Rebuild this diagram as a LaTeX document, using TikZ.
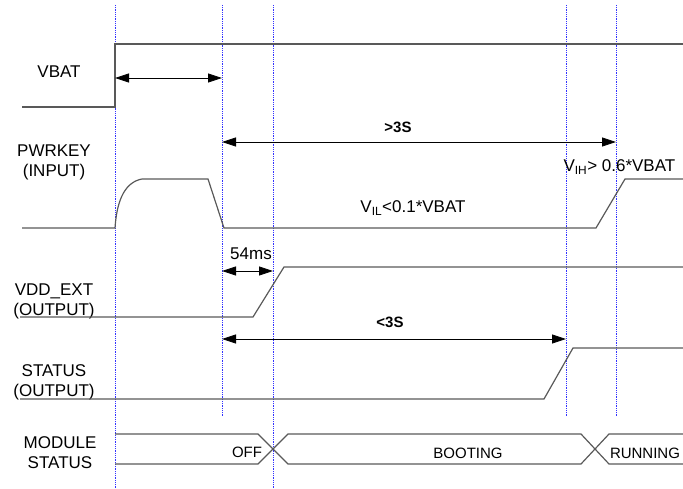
\documentclass[tikz,border=0pt]{standalone}
\usepackage{fontspec}
\setmainfont{Liberation Sans}
\usetikzlibrary{positioning,arrows.meta}

\begin{document}
\begin{tikzpicture}[x=1pt,y=-1pt,
    sig/.style={draw=black!65,line width=1.2pt},
    tline/.style={blue!80,densely dotted,line width=0.8pt},
    span/.style={{Triangle[length=14pt,width=9pt]}-{Triangle[length=14pt,width=9pt]},line width=0.8pt},
    siglabel/.style={font=\fontsize{17}{20}\selectfont,align=center},
    dur/.style={font=\bfseries\fontsize{15}{18}\selectfont},
    modstate/.style={font=\fontsize{15}{18}\selectfont}]
   \useasboundingbox (0,0) rectangle (683,489);
   % time markers
   \coordinate (t0) at (115,5);
   \coordinate (t1) at (222,5);
   \coordinate (t2) at (273,5);
   \coordinate (t3) at (566,5);
   \coordinate (t4) at (616,5);
   \draw[tline] (t0) -- (t0 |- 0,489);
   \draw[tline] (t1) -- (t1 |- 0,416);
   \draw[tline] (t2) -- (t2 |- 0,489);
   \draw[tline] (t3) -- (t3 |- 0,416);
   \draw[tline] (t4) -- (t4 |- 0,416);

   % signal names
   \node[siglabel] (vbat)   at (59,72)  {VBAT};
   \node[siglabel] (pwrkey) at (54,162) {PWRKEY\\(INPUT)};
   \node[siglabel] (vddext) at (54,301) {VDD\_EXT\\(OUTPUT)};
   \node[siglabel] (status) at (54,382) {STATUS\\(OUTPUT)};
   \node[siglabel] (modst)  at (60,453) {MODULE\\STATUS};

   % waveforms
   \draw[sig] (22,107) -- (115,107) -- (115,44) -- (683,44);
   \draw[sig] (22,228) -- (115,228) .. controls (117,198) and (126,182) .. (142,179)
      -- (208,179) -- (224,228) -- (596,228) -- (625,179) -- (683,179);
   \draw[sig] (20,317) -- (253,317) -- (284,267) -- (683,267);
   \draw[sig] (20,399) -- (544,399) -- (573,348) -- (683,348);
   \draw[sig] (115,434) -- (258,434) -- (288,464) -- (581,464) -- (609,434) -- (683,434);
   \draw[sig] (115,464) -- (258,464) -- (288,434) -- (581,434) -- (609,464) -- (683,464);

   % levels
   \node[siglabel] (vil) at (413,208) {V\textsubscript{IL}<0.1*VBAT};
   \node[siglabel,anchor=west] (vih) at (560,167) {V\textsubscript{IH}> 0.6*VBAT};

   % durations
   \draw[span] (t0 |- 0,78) -- (t1 |- 0,78);
   \draw[span] (t1 |- 0,142) -- (t4 |- 0,142);
   \node[dur] (gt3) at (398,127) {>3S};
   \draw[span] (t1 |- 0,271) -- (t2 |- 0,271);
   \node[siglabel] (ms54) at (251,254) {54ms};
   \draw[span] (t1 |- 0,339) -- (t3 |- 0,339);
   \node[dur] (lt3) at (390,322) {<3S};

   % module states
   \node[modstate] (off)  at (247,452) {OFF};
   \node[modstate] (boot) at (468,453) {BOOTING};
   \node[modstate] (run)  at (645,453) {RUNNING};
\end{tikzpicture}
\end{document}
